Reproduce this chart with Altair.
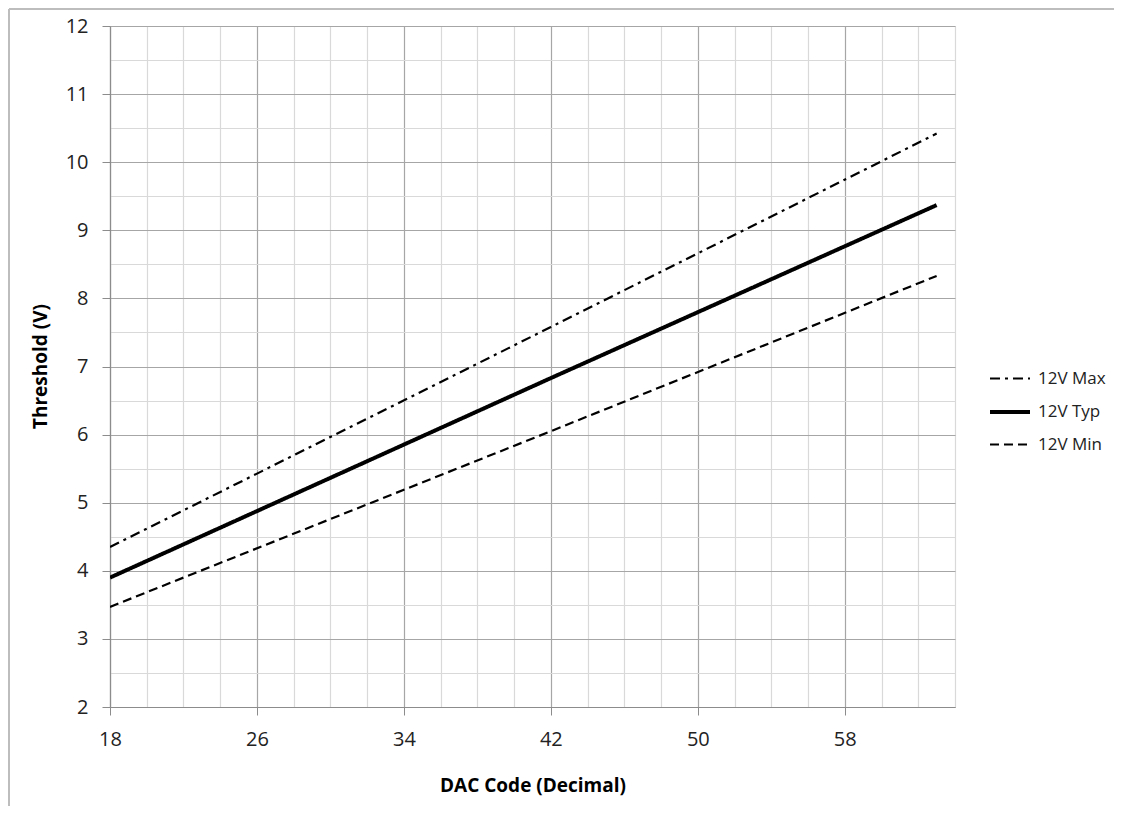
import altair as alt
import pandas as pd

# Data
dac_codes = [18, 42, 63]
max_vals = [4.35, 7.58, 10.42]
typ_vals = [3.90, 6.83, 9.37]
min_vals = [3.47, 6.05, 8.33]

series_names = ["12V Max", "12V Typ", "12V Min"]

rows = []
for name, vals in zip(series_names, [max_vals, typ_vals, min_vals]):
    for x, y in zip(dac_codes, vals):
        rows.append({"code": x, "value": y, "series": name})
df = pd.DataFrame(rows)

x_ticks = list(range(18, 65, 2))
y_ticks = [2 + 0.5 * i for i in range(21)]

FONT = "Open Sans"

x_axis = alt.Axis(
    values=x_ticks,
    title="DAC Code (Decimal)",
    titleFontSize=19,
    titleFontWeight="bold",
    titleFont=FONT,
    titleColor="#000000",
    titleY=78,
    titleBaseline="middle",
    labelExpr="(datum.value - 18) % 8 == 0 ? format(datum.value, 'd') : ''",
    labelFontSize=20,
    labelFont=FONT,
    labelColor="#222222",
    labelPadding=14,
    tickSize=8,
    tickColor={"condition": {"test": "(datum.value - 18) % 8 == 0", "value": "#8c8c8c"}, "value": "transparent"},
    grid=True,
    gridColor={"condition": {"test": "(datum.value - 18) % 8 == 0", "value": "#a6a6a6"}, "value": "#d9d9d9"},
    gridWidth=1.2,
    domainColor="#8c8c8c",
    domainWidth=1.2,
    labelFlush=False,
)

y_axis = alt.Axis(
    values=y_ticks,
    title="Threshold (V)",
    titleFontSize=19,
    titleFontWeight="bold",
    titleFont=FONT,
    titleColor="#000000",
    titleX=-70,
    titleY=340,
    titleAngle=-90,
    titleAlign="center",
    titleBaseline="middle",
    labelExpr="datum.value % 1 == 0 ? format(datum.value, 'd') : ''",
    labelFontSize=20,
    labelFont=FONT,
    labelColor="#222222",
    labelPadding=14,
    tickSize=8,
    tickColor={"condition": {"test": "datum.value % 1 == 0", "value": "#8c8c8c"}, "value": "transparent"},
    grid=True,
    gridColor={"condition": {"test": "datum.value % 1 == 0", "value": "#a6a6a6"}, "value": "#d9d9d9"},
    gridWidth=1.2,
    domainColor="#8c8c8c",
    domainWidth=1.2,
    labelFlush=False,
)

legend = alt.Legend(
    title=None,
    orient="none",
    legendX=878,
    legendY=331,
    symbolType="stroke",
    symbolSize=1600,
    symbolStrokeColor="#000000",
    labelFont=FONT,
    labelFontSize=17,
    labelColor="#222222",
    rowPadding=3,
    labelOffset=6,
)

lines = alt.Chart(df).mark_line(color="#000000", clip=True).encode(
    x=alt.X("code:Q", scale=alt.Scale(domain=[18, 64], nice=False, zero=False), axis=x_axis),
    y=alt.Y("value:Q", scale=alt.Scale(domain=[2, 12], nice=False, zero=False), axis=y_axis),
    strokeDash=alt.StrokeDash(
        "series:N",
        scale=alt.Scale(domain=series_names, range=[[10, 5, 3, 5], [1, 0], [9, 5]]),
        legend=legend,
        sort=series_names,
    ),
    strokeWidth=alt.StrokeWidth(
        "series:N",
        scale=alt.Scale(type="ordinal", domain=series_names, range=[2.2, 4.0, 2.2]),
        legend=legend,
        sort=series_names,
    ),
    detail="series:N",
)

frame_data = alt.Data(values=[{}])
border_top = alt.Chart(frame_data).mark_rule(
    stroke="#bdbdbd", strokeWidth=2, clip=False
).encode(x=alt.value(-101), x2=alt.value(1010), y=alt.value(-17))
border_left = alt.Chart(frame_data).mark_rule(
    stroke="#bdbdbd", strokeWidth=2, clip=False
).encode(x=alt.value(-101), y=alt.value(-17), y2=alt.value(785))

chart = alt.layer(border_top, border_left, lines).properties(
    width=845,
    height=681,
    autosize=alt.AutoSizeParams(type="none"),
    padding={"left": 102, "top": 18, "right": 159, "bottom": 99},
).configure_view(stroke=None).configure(background="#ffffff")

chart.save("out.html", embed_options={"renderer": "svg", "actions": False})
